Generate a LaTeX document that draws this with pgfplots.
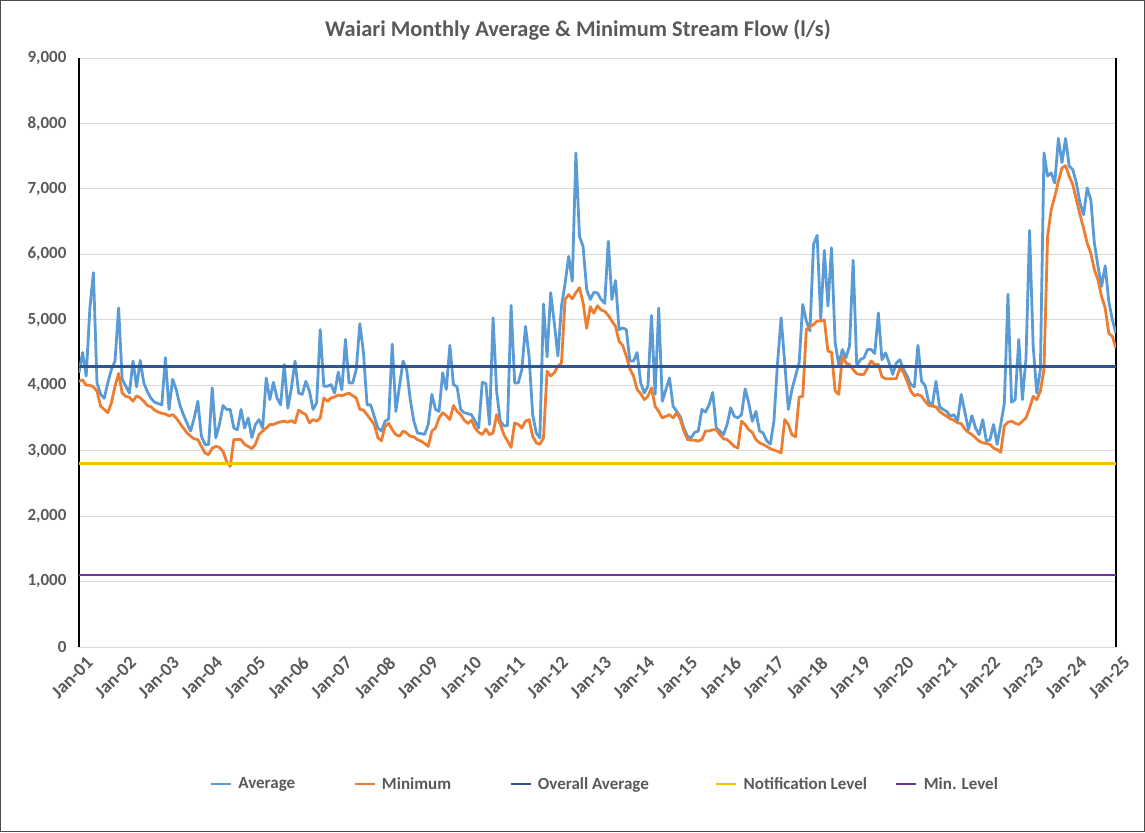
\documentclass[border=0pt]{standalone}
\usepackage{fontspec}
\setmainfont{Carlito}
\usepackage{pgfplots}
\usepackage{pgfplotstable}
\pgfplotsset{compat=1.18}
\definecolor{cAvg}{HTML}{5B9BD5}
\definecolor{cMin}{HTML}{ED7D31}
\definecolor{cOver}{HTML}{2F5597}
\definecolor{cNote}{HTML}{FFC000}
\definecolor{cLev}{HTML}{7030A0}
\definecolor{cTxt}{HTML}{595959}
\definecolor{cGrid}{HTML}{D9D9D9}

\pgfplotstableread{
m avg
0 4190
1 4500
2 4140
3 5160
4 5720
5 4035
6 3860
7 3800
8 4035
9 4240
10 4370
11 5180
12 4090
13 3985
14 3880
15 4370
16 3975
17 4380
18 4035
19 3900
20 3800
21 3740
22 3720
23 3700
24 4420
25 3630
26 4090
27 3935
28 3700
29 3550
30 3420
31 3300
32 3500
33 3755
34 3220
35 3095
36 3095
37 3960
38 3195
39 3400
40 3690
41 3630
42 3630
43 3345
44 3320
45 3630
46 3345
47 3500
48 3200
49 3400
50 3475
51 3345
52 4110
53 3780
54 4045
55 3805
56 3700
57 4315
58 3650
59 3960
60 4370
61 3880
62 3860
63 4060
64 3910
65 3630
66 3730
67 4850
68 3985
69 3985
70 4010
71 3880
72 4200
73 3930
74 4700
75 4035
76 4035
77 4240
78 4940
79 4500
80 3700
81 3700
82 3525
83 3345
84 3300
85 3450
86 3485
87 4630
88 3600
89 3985
90 4370
91 4240
92 3780
93 3450
94 3270
95 3260
96 3250
97 3400
98 3860
99 3630
100 3600
101 4190
102 3935
103 4610
104 4010
105 3975
106 3630
107 3580
108 3565
109 3550
110 3450
111 3345
112 4045
113 4025
114 3400
115 5030
116 3900
117 3450
118 3380
119 3380
120 5220
121 4035
122 4035
123 4240
124 4900
125 4445
126 3550
127 3270
128 3195
129 5240
130 4435
131 5415
132 4950
133 4445
134 5210
135 5555
136 5970
137 5590
138 7550
139 6275
140 6120
141 5460
142 5310
143 5420
144 5410
145 5310
146 5250
147 6200
148 5310
149 5600
150 4850
151 4875
152 4850
153 4370
154 4370
155 4500
156 4035
157 3880
158 3985
159 5065
160 3860
161 5180
162 3755
163 3935
164 4110
165 3680
166 3600
167 3520
168 3345
169 3220
170 3195
171 3280
172 3300
173 3630
174 3590
175 3700
176 3890
177 3345
178 3300
179 3245
180 3400
181 3655
182 3525
183 3500
184 3550
185 3945
186 3730
187 3450
188 3600
189 3300
190 3270
191 3150
192 3100
193 3450
194 4340
195 5030
196 4340
197 3630
198 3935
199 4140
200 4340
201 5235
202 4980
203 4830
204 6150
205 6290
206 5005
207 6060
208 5210
209 6100
210 4650
211 4315
212 4545
213 4420
214 4600
215 5910
216 4300
217 4390
218 4420
219 4545
220 4545
221 4485
222 5105
223 4390
224 4495
225 4340
226 4165
227 4340
228 4390
229 4240
230 4140
231 4010
232 3975
233 4610
234 4060
235 3995
236 3740
237 3700
238 4060
239 3670
240 3630
241 3600
242 3525
243 3550
244 3450
245 3860
246 3600
247 3320
248 3535
249 3345
250 3245
251 3475
252 3145
253 3170
254 3400
255 3095
256 3400
257 3730
258 5390
259 3740
260 3780
261 4700
262 3780
263 4400
264 6365
265 4600
266 3880
267 4240
268 7550
269 7195
270 7245
271 7090
272 7770
273 7400
274 7770
275 7350
276 7295
277 7090
278 6785
279 6605
280 7015
281 6835
282 6170
283 5815
284 5510
285 5825
286 5280
287 5000
288 4795
}\avgtable

\pgfplotstableread{
m mn
0 4060
1 4080
2 4000
3 4000
4 3975
5 3910
6 3680
7 3630
8 3580
9 3730
10 3985
11 4180
12 3880
13 3830
14 3815
15 3755
16 3840
17 3805
18 3755
19 3690
20 3670
21 3620
22 3590
23 3570
24 3560
25 3530
26 3550
27 3500
28 3420
29 3345
30 3270
31 3220
32 3180
33 3170
34 3065
35 2965
36 2940
37 3040
38 3065
39 3050
40 2990
41 2835
42 2760
43 3170
44 3170
45 3170
46 3095
47 3065
48 3030
49 3100
50 3245
51 3300
52 3345
53 3400
54 3400
55 3425
56 3440
57 3450
58 3435
59 3460
60 3425
61 3620
62 3580
63 3550
64 3425
65 3475
66 3450
67 3500
68 3805
69 3755
70 3805
71 3820
72 3850
73 3840
74 3860
75 3880
76 3840
77 3805
78 3630
79 3620
80 3550
81 3475
82 3400
83 3200
84 3150
85 3370
86 3420
87 3320
88 3245
89 3220
90 3300
91 3270
92 3220
93 3210
94 3170
95 3145
96 3110
97 3065
98 3300
99 3345
100 3500
101 3580
102 3535
103 3475
104 3690
105 3600
106 3550
107 3465
108 3415
109 3465
110 3345
111 3280
112 3245
113 3330
114 3245
115 3270
116 3550
117 3400
118 3245
119 3150
120 3050
121 3425
122 3400
123 3345
124 3450
125 3475
126 3220
127 3120
128 3095
129 3195
130 4215
131 4140
132 4190
133 4290
134 4340
135 5310
136 5385
137 5320
138 5415
139 5490
140 5260
141 4870
142 5200
143 5100
144 5215
145 5150
146 5130
147 5065
148 4980
149 4900
150 4670
151 4610
152 4445
153 4250
154 4140
155 3935
156 3870
157 3780
158 3830
159 3960
160 3680
161 3600
162 3500
163 3525
164 3550
165 3500
166 3580
167 3475
168 3300
169 3170
170 3160
171 3160
172 3145
173 3170
174 3300
175 3300
176 3320
177 3320
178 3245
179 3180
180 3170
181 3120
182 3065
183 3040
184 3450
185 3400
186 3320
187 3280
188 3170
189 3120
190 3095
191 3065
192 3030
193 3010
194 2990
195 2965
196 3475
197 3400
198 3245
199 3210
200 3820
201 3830
202 4850
203 4900
204 4925
205 4980
206 4980
207 5000
208 4520
209 4505
210 3910
211 3860
212 4445
213 4340
214 4315
215 4240
216 4175
217 4165
218 4165
219 4265
220 4370
221 4315
222 4315
223 4130
224 4100
225 4100
226 4100
227 4100
228 4265
229 4190
230 4060
231 3910
232 3840
233 3860
234 3830
235 3755
236 3690
237 3680
238 3670
239 3600
240 3560
241 3525
242 3485
243 3465
244 3425
245 3415
246 3330
247 3280
248 3245
249 3195
250 3145
251 3120
252 3110
253 3095
254 3040
255 3015
256 2975
257 3380
258 3435
259 3450
260 3420
261 3400
262 3450
263 3500
264 3650
265 3830
266 3780
267 3910
268 4240
269 6275
270 6680
271 6885
272 7115
273 7320
274 7355
275 7195
276 7065
277 6835
278 6605
279 6400
280 6170
281 6020
282 5765
283 5610
284 5355
285 5180
286 4795
287 4745
288 4565
}\mintable

\begin{document}
\begin{tikzpicture}[x=1pt,y=1pt]
\begin{axis}[
  at={(0,0)}, anchor=south west,
  scale only axis, width=1037pt, height=589pt,
  xmin=0, xmax=288, ymin=0, ymax=9000,
  xtick={0,12,...,288},
  xticklabels={Jan-01,Jan-02,Jan-03,Jan-04,Jan-05,Jan-06,Jan-07,Jan-08,Jan-09,Jan-10,Jan-11,Jan-12,Jan-13,Jan-14,Jan-15,Jan-16,Jan-17,Jan-18,Jan-19,Jan-20,Jan-21,Jan-22,Jan-23,Jan-24,Jan-25},
  x tick label style={rotate=45, anchor=north east, yshift=-7pt, xshift=2pt, font=\fontsize{18.5}{18.5}\selectfont\bfseries, text=cTxt},
  ytick={0,1000,...,9000},
  y tick label style={xshift=-9pt, font=\fontsize{17}{17}\selectfont\bfseries, text=cTxt},
  scaled y ticks=false,
  /pgf/number format/1000 sep={,},
  /pgf/number format/assume math mode=true,
  ymajorgrids, grid style={draw=cGrid, line width=1pt},
  major tick length=0pt,
  separate axis lines,
  every outer x axis line/.append style={draw=cGrid, line width=1pt},
  every outer y axis line/.append style={draw=black, line width=1.5pt},
  legend columns=5,
  legend style={at={(0.507,-0.2326)}, anchor=center, draw=none, fill=none,
    font=\fontsize{17}{17}\selectfont\bfseries, text=cTxt,
    /tikz/every odd column/.append style={column sep=4pt},
    /tikz/column 2/.style={column sep=56pt},
    /tikz/column 4/.style={column sep=56pt},
    /tikz/column 6/.style={column sep=64pt},
    /tikz/column 8/.style={column sep=26pt}},
  legend image code/.code={\draw[#1] (0pt,0pt) -- (20pt,0pt);},
]
\addplot[cAvg, line width=2.8pt, line join=round] table[x=m,y=avg] {\avgtable};
\addlegendentry{Average}
\addplot[cMin, line width=2.8pt, line join=round] table[x=m,y=mn] {\mintable};
\addlegendentry{Minimum}
\addplot[cOver, line width=2.8pt] coordinates {(0,4290) (288,4290)};
\addlegendentry{Overall Average}
\addplot[cNote, line width=2.8pt] coordinates {(0,2800) (288,2800)};
\addlegendentry{Notification Level}
\addplot[cLev, line width=2.8pt] coordinates {(0,1100) (288,1100)};
\addlegendentry{Min. Level}
\end{axis}
\pgfresetboundingbox
\useasboundingbox (-79,-185) rectangle (1066,647);
\draw[line width=1pt, draw=black!70] (-78.5,-184.5) rectangle (1065.5,646.5);
\node[font=\fontsize{22.4}{26}\selectfont\bfseries, text=cTxt] at (499,617) {Waiari Monthly Average \& Minimum Stream Flow (l/s)};
\end{tikzpicture}
\end{document}
